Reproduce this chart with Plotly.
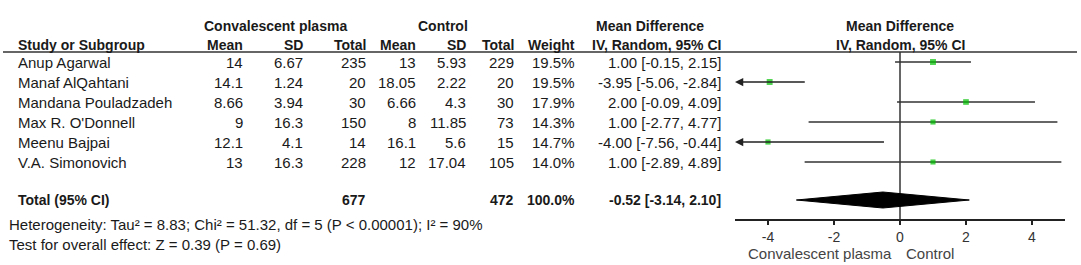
import plotly.graph_objects as go

studies = ["Anup Agarwal", "Manaf AlQahtani", "Mandana Pouladzadeh", "Max R. O'Donnell", "Meenu Bajpai", "V.A. Simonovich"]
cp_mean = ["14", "14.1", "8.66", "9", "12.1", "13"]
cp_sd = ["6.67", "1.24", "3.94", "16.3", "4.1", "16.3"]
cp_total = ["235", "20", "30", "150", "14", "228"]
ct_mean = ["13", "18.05", "6.66", "8", "16.1", "12"]
ct_sd = ["5.93", "2.22", "4.3", "11.85", "5.6", "17.04"]
ct_total = ["229", "20", "30", "73", "15", "105"]
weights = [19.5, 19.5, 17.9, 14.3, 14.7, 14.0]
md = [1.00, -3.95, 2.00, 1.00, -4.00, 1.00]
ci_lo = [-0.15, -5.06, -0.09, -2.77, -7.56, -2.89]
ci_hi = [2.15, -2.84, 4.09, 4.77, -0.44, 4.89]

total_cp = "677"
total_ct = "472"
total_weight = "100.0%"
pooled = -0.52
pooled_lo = -3.14
pooled_hi = 2.10

group_labels = ["Convalescent plasma", "Control"]
het_text = "Heterogeneity: Tau\u00b2 = 8.83; Chi\u00b2 = 51.32, df = 5 (P < 0.00001); I\u00b2 = 90%"
test_text = "Test for overall effect: Z = 0.39 (P = 0.69)"
tick_vals = [-4, -2, 0, 2, 4]
tick_text = ["-4", "-2", "0", "2", "4"]
x_min, x_max = -5, 5

W, H = 1081, 265
FONT = "Arial"
FS = 15
FSB = 14
TXT = "#1a1a1a"

def rowpix(p):
    return (p - 62) / 20.0

fig = go.Figure()
ann = []

# CI lines and squares
for i in range(len(studies)):
    lo = max(ci_lo[i], x_min)
    hi = min(ci_hi[i], x_max)
    if ci_lo[i] < x_min:
        ann.append(dict(x=lo, y=i, ax=hi, ay=i, xref="x", yref="y", axref="x", ayref="y",
                        text="", showarrow=True, arrowhead=2, arrowsize=1.1, arrowwidth=1.5,
                        arrowcolor="#222", standoff=0, startstandoff=0))
    else:
        fig.add_trace(go.Scatter(x=[lo, hi], y=[i, i], mode="lines",
                                 line=dict(color="#333", width=1.5), hoverinfo="skip"))
fig.add_trace(go.Scatter(x=md, y=list(range(len(studies))), mode="markers",
                         marker=dict(symbol="square", color="#00c000",
                                     size=[3 + 0.15 * w for w in weights], line=dict(width=0)),
                         hoverinfo="skip"))

# diamond
ty = rowpix(200)
fig.add_trace(go.Scatter(x=[pooled_lo, pooled, pooled_hi, pooled, pooled_lo],
                         y=[ty, ty - 0.4, ty, ty + 0.4, ty], mode="lines", fill="toself",
                         fillcolor="black", line=dict(color="black", width=1), hoverinfo="skip"))

shapes = []
shapes.append(dict(type="line", xref="x", yref="y", x0=0, x1=0, y0=rowpix(52), y1=rowpix(220),
                   line=dict(color="#333", width=1.5), layer="below"))
shapes.append(dict(type="line", xref="paper", yref="y", x0=3 / W, x1=1077 / W, y0=rowpix(52), y1=rowpix(52),
                   line=dict(color="#333", width=1.5)))

def txt(x, y, s, anchor="right", bold=False, color=TXT, size=None):
    if size is None:
        size = FSB if bold else FS
    ann.append(dict(x=x / W, y=y, xref="paper", yref="y", text=("<b>%s</b>" % s) if bold else s,
                    showarrow=False, xanchor=anchor, yanchor="middle",
                    font=dict(family=FONT, size=size, color=color)))

cols_r = [245, 305, 368, 418, 468, 516, 577, 723]
h1 = rowpix(26)
h2 = rowpix(45)
txt(275, h1, group_labels[0], "center", True)
txt(443, h1, group_labels[1], "center", True)
txt(650, h1, "Mean Difference", "center", True)
txt(900, h1, "Mean Difference", "center", True)
txt(16, h2, "Study or Subgroup", "left", True)
for x, s in zip(cols_r, ["Mean", "SD", "Total", "Mean", "SD", "Total", "Weight", "IV, Random, 95% CI"]):
    txt(x, h2, s, "right", True)
txt(900, h2, "IV, Random, 95% CI", "center", True)

for i in range(len(studies)):
    txt(16, i, studies[i], "left")
    ci = "%.2f [%.2f, %.2f]" % (md[i], ci_lo[i], ci_hi[i])
    vals = [cp_mean[i], cp_sd[i], cp_total[i], ct_mean[i], ct_sd[i], ct_total[i], "%.1f%%" % weights[i], ci]
    for x, s in zip(cols_r, vals):
        txt(x, i, s, "right")

txt(16, ty, "Total (95% CI)", "left", True)
txt(cols_r[2], ty, total_cp, "right", True)
txt(cols_r[5], ty, total_ct, "right", True)
txt(cols_r[6], ty, total_weight, "right", True)
txt(cols_r[7], ty, "%.2f [%.2f, %.2f]" % (pooled, pooled_lo, pooled_hi), "right", True)
txt(7, rowpix(224), het_text, "left")
txt(7, rowpix(244), test_text, "left")
txt(820, rowpix(253), group_labels[0], "center", color="#444")
txt(930, rowpix(253), group_labels[1], "center", color="#444")

fig.update_layout(
    width=W, height=H, margin=dict(l=0, r=0, t=0, b=0),
    paper_bgcolor="white", plot_bgcolor="white", showlegend=False,
    shapes=shapes,
    xaxis=dict(domain=[735 / W, 1065 / W], range=[x_min, x_max], anchor="free", position=1 - 220 / H,
               showline=True, linecolor="#222", linewidth=1.5, ticks="outside", ticklen=4, tickwidth=1.5,
               tickcolor="#222", tickvals=tick_vals, ticktext=tick_text, showgrid=False, zeroline=False,
               tickfont=dict(family=FONT, size=14, color="#333")),
    yaxis=dict(domain=[0, 1], range=[rowpix(265), rowpix(0)], visible=False, showgrid=False, zeroline=False),
)
fig.layout.annotations = ann
fig.write_html("out.html", config={"displayModeBar": False},
               post_script="document.body.style.margin='0';document.body.style.overflow='hidden';")
